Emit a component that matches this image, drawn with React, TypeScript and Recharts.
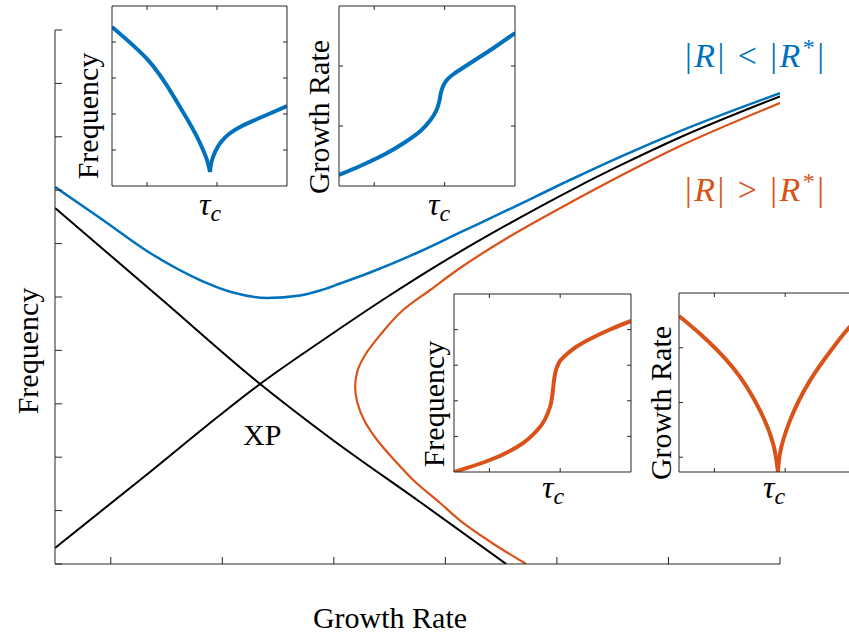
import { LineChart, Line, XAxis, YAxis } from "recharts"

const BLUE = "#0072BD"
const ORANGE = "#D95319"
const AXIS = "#262626"
const SERIF = '"Liberation Serif", "DejaVu Serif", serif'

// main panel: growth rate on x, frequency on y
const mainXTicks = [0, 1, 2, 3, 4, 5, 6]
const mainYTicks = [0, 1, 2, 3, 4, 5, 6, 7, 8, 9, 10]

// |R| < |R*| : avoided crossing
const blueMode = [
  { x: -0.5, y: 7.06 }, { x: -0.096, y: 6.479 }, { x: 0.352, y: 5.824 }, { x: 0.8, y: 5.318 },
  { x: 1.096, y: 5.084 }, { x: 1.401, y: 4.981 }, { x: 1.697, y: 5.028 }, { x: 1.877, y: 5.122 },
  { x: 2.056, y: 5.253 }, { x: 2.325, y: 5.459 }, { x: 2.773, y: 5.852 }, { x: 3.132, y: 6.208 },
  { x: 3.554, y: 6.625 }, { x: 4.146, y: 7.219 }, { x: 4.567, y: 7.624 }, { x: 5.105, y: 8.107 },
  { x: 6.0, y: 8.818 },
]

// uncoupled modes
const uncoupledDown = [
  { x: -0.5, y: 6.667 }, { x: 0.442, y: 4.981 }, { x: 1.339, y: 3.371 },
  { x: 1.966, y: 2.36 }, { x: 2.773, y: 1.161 }, { x: 3.545, y: 0 },
]
const uncoupledUp = [
  { x: -0.5, y: 0.3 }, { x: 0.352, y: 1.723 }, { x: 0.98, y: 2.79 }, { x: 1.339, y: 3.371 },
  { x: 1.877, y: 4.157 }, { x: 2.478, y: 5.0 }, { x: 2.953, y: 5.625 }, { x: 3.554, y: 6.354 },
  { x: 4.146, y: 7.022 }, { x: 4.567, y: 7.463 }, { x: 5.105, y: 7.991 }, { x: 6.0, y: 8.758 },
]

// |R| > |R*| : exceptional point branch, listed bottom to top
const orangeMode = [
  { x: 3.724, y: 0 }, { x: 3.446, y: 0.356 }, { x: 3.159, y: 0.768 }, { x: 2.953, y: 1.142 },
  { x: 2.711, y: 1.573 }, { x: 2.55, y: 1.929 }, { x: 2.388, y: 2.322 }, { x: 2.28, y: 2.659 },
  { x: 2.209, y: 3.034 }, { x: 2.191, y: 3.315 }, { x: 2.209, y: 3.596 }, { x: 2.28, y: 3.914 },
  { x: 2.415, y: 4.288 }, { x: 2.621, y: 4.757 }, { x: 2.863, y: 5.131 }, { x: 3.132, y: 5.543 },
  { x: 3.554, y: 6.105 }, { x: 4.146, y: 6.798 }, { x: 4.567, y: 7.266 }, { x: 5.105, y: 7.828 },
  { x: 6.0, y: 8.633 },
]

// insets, x is tau_c
const insetXTicks = [0.5, 1.5]

const blueFreqLeft = [
  { x: 0, y: 4.417 }, { x: 0.5, y: 3.53 }, { x: 0.971, y: 2.194 },
  { x: 1.257, y: 1.194 }, { x: 1.357, y: 0.722 }, { x: 1.4, y: 0.389 },
]
const blueFreqRight = [
  { x: 1.4, y: 0.389 }, { x: 1.421, y: 0.667 }, { x: 1.471, y: 0.944 }, { x: 1.557, y: 1.222 },
  { x: 1.671, y: 1.444 }, { x: 1.829, y: 1.639 }, { x: 2.043, y: 1.833 }, { x: 2.257, y: 2.014 },
  { x: 2.5, y: 2.222 },
]
const blueGrowth = [
  { x: 0, y: 0.183 }, { x: 0.3, y: 0.333 }, { x: 0.657, y: 0.533 }, { x: 0.943, y: 0.733 },
  { x: 1.157, y: 0.917 }, { x: 1.3, y: 1.1 }, { x: 1.386, y: 1.267 }, { x: 1.429, y: 1.433 },
  { x: 1.45, y: 1.567 }, { x: 1.486, y: 1.683 }, { x: 1.543, y: 1.783 }, { x: 1.629, y: 1.867 },
  { x: 1.757, y: 1.967 }, { x: 1.943, y: 2.108 }, { x: 2.186, y: 2.292 }, { x: 2.5, y: 2.55 },
]
const orangeFreq = [
  { x: 0, y: 0 }, { x: 0.508, y: 0.337 }, { x: 0.89, y: 0.702 }, { x: 1.215, y: 1.264 },
  { x: 1.356, y: 1.826 }, { x: 1.398, y: 2.303 }, { x: 1.413, y: 2.584 }, { x: 1.455, y: 2.949 },
  { x: 1.497, y: 3.118 }, { x: 1.596, y: 3.315 }, { x: 1.723, y: 3.511 }, { x: 1.921, y: 3.736 },
  { x: 2.203, y: 4.003 }, { x: 2.5, y: 4.242 },
]
const orangeGrowthLeft = [
  { x: 0, y: 2.58 }, { x: 0.297, y: 2.255 }, { x: 0.763, y: 1.636 },
  { x: 1.144, y: 0.855 }, { x: 1.328, y: 0.255 }, { x: 1.398, y: -0.27 },
]
const orangeGrowthRight = [
  { x: 1.398, y: -0.27 }, { x: 1.427, y: 0.073 }, { x: 1.568, y: 0.673 }, { x: 1.85, y: 1.4 },
  { x: 2.175, y: 2.0 }, { x: 2.4, y: 2.364 }, { x: 2.5, y: 2.5 },
]

type Pt = { x: number; y: number }

const noLabel = () => ""

function Inset({ left, top, width, height, yDomain, yTicks, series, color }: {
  left: number; top: number; width: number; height: number
  yDomain: [number, number]; yTicks: number[]; series: Pt[][]; color: string
}) {
  // negative tick size so the ticks point into the box, like the main axes
  const axisProps = { stroke: AXIS, tickFormatter: noLabel, tickSize: -4, interval: 0 as const, allowDataOverflow: true }
  return (
    <div style={{ position: "absolute", left: left - 1, top: top - 1, background: "#fff" }}>
      <LineChart width={width + 2} height={height + 2} margin={{ top: 0, right: 0, bottom: 0, left: 0 }}>
        <XAxis xAxisId="b" type="number" dataKey="x" domain={[0, 2.5]} ticks={insetXTicks} height={1} {...axisProps} />
        <XAxis xAxisId="t" orientation="top" type="number" dataKey="x" domain={[0, 2.5]} ticks={insetXTicks} height={1} {...axisProps} />
        <YAxis yAxisId="l" type="number" domain={yDomain} ticks={yTicks} width={1} {...axisProps} />
        <YAxis yAxisId="r" orientation="right" type="number" domain={yDomain} ticks={yTicks} width={1} {...axisProps} />
        {series.map((d, i) => (
          <Line key={i} xAxisId="b" yAxisId="l" data={d} dataKey="y" type="monotoneY" stroke={color}
            strokeWidth={4} dot={false} isAnimationActive={false} />
        ))}
      </LineChart>
    </div>
  )
}

function TauC({ x, y }: { x: number; y: number }) {
  return (
    <text x={x} y={y} fontFamily={SERIF} fontStyle="italic" fontSize={32}>
      τ<tspan fontSize={24} dy={6}>c</tspan>
    </text>
  )
}

export default function App() {
  return (
    <div style={{ position: "fixed", left: 0, top: 0, width: 849, height: 637, overflow: "hidden", background: "#fff" }}>
      <div style={{ position: "absolute", left: 0, top: 0 }}>
        <LineChart width={849} height={637} margin={{ top: 30, right: 69, bottom: 72, left: 54 }}>
          <XAxis type="number" dataKey="x" domain={[-0.5, 6]} ticks={mainXTicks} height={1} tickFormatter={noLabel}
            tickSize={-7} interval={0} stroke={AXIS} allowDataOverflow />
          <YAxis type="number" domain={[0, 10]} ticks={mainYTicks} width={1} tickFormatter={noLabel}
            tickSize={-7} interval={0} stroke={AXIS} allowDataOverflow />
          <Line data={uncoupledDown} dataKey="y" type="monotone" stroke="#000" strokeWidth={2} dot={false} isAnimationActive={false} />
          <Line data={uncoupledUp} dataKey="y" type="monotone" stroke="#000" strokeWidth={2} dot={false} isAnimationActive={false} />
          <Line data={blueMode} dataKey="y" type="monotone" stroke={BLUE} strokeWidth={2.5} dot={false} isAnimationActive={false} />
          <Line data={orangeMode} dataKey="y" type="monotoneY" stroke={ORANGE} strokeWidth={2.2} dot={false} isAnimationActive={false} />
        </LineChart>
      </div>

      <Inset left={112} top={6} width={175} height={180} yDomain={[0, 5]} yTicks={[1, 2, 3, 4]}
        series={[blueFreqLeft, blueFreqRight]} color={BLUE} />
      <Inset left={339} top={6} width={176} height={180} yDomain={[0, 3]} yTicks={[1, 2]}
        series={[blueGrowth]} color={BLUE} />
      <Inset left={454} top={294} width={177} height={178} yDomain={[0, 5]} yTicks={[1, 2, 3, 4]}
        series={[orangeFreq]} color={ORANGE} />
      <Inset left={679} top={293} width={177} height={179} yDomain={[-0.27, 3]} yTicks={[0, 1, 2]}
        series={[orangeGrowthLeft, orangeGrowthRight]} color={ORANGE} />

      <svg width={849} height={637} style={{ position: "absolute", left: 0, top: 0, pointerEvents: "none" }}>
        <text transform="translate(38,351) rotate(-90)" textAnchor="middle" fontFamily={SERIF} fontSize={30}>Frequency</text>
        <text x={390} y={628} textAnchor="middle" fontFamily={SERIF} fontSize={30}>Growth Rate</text>
        <text x={243} y={445} fontFamily={SERIF} fontSize={30}>XP</text>

        <text transform="translate(98,116) rotate(-90)" textAnchor="middle" fontFamily={SERIF} fontSize={30}>Frequency</text>
        <text transform="translate(329,117) rotate(-90)" textAnchor="middle" fontFamily={SERIF} fontSize={30}>Growth Rate</text>
        <text transform="translate(444,404) rotate(-90)" textAnchor="middle" fontFamily={SERIF} fontSize={30}>Frequency</text>
        <text transform="translate(671,403) rotate(-90)" textAnchor="middle" fontFamily={SERIF} fontSize={30}>Growth Rate</text>

        <TauC x={199} y={215} />
        <TauC x={428} y={215} />
        <TauC x={542} y={498} />
        <TauC x={763} y={498} />

        <text x={685} y={67} fill={BLUE} fontFamily={SERIF} fontSize={34} textLength={139} lengthAdjust="spacing">
          |<tspan fontStyle="italic">R</tspan>| &lt; |<tspan fontStyle="italic">R</tspan><tspan fontSize={24} dy={-12}>*</tspan><tspan dy={12}>|</tspan>
        </text>
        <text x={685} y={201} fill={ORANGE} fontFamily={SERIF} fontSize={34} textLength={139} lengthAdjust="spacing">
          |<tspan fontStyle="italic">R</tspan>| &gt; |<tspan fontStyle="italic">R</tspan><tspan fontSize={24} dy={-12}>*</tspan><tspan dy={12}>|</tspan>
        </text>
      </svg>
    </div>
  )
}
